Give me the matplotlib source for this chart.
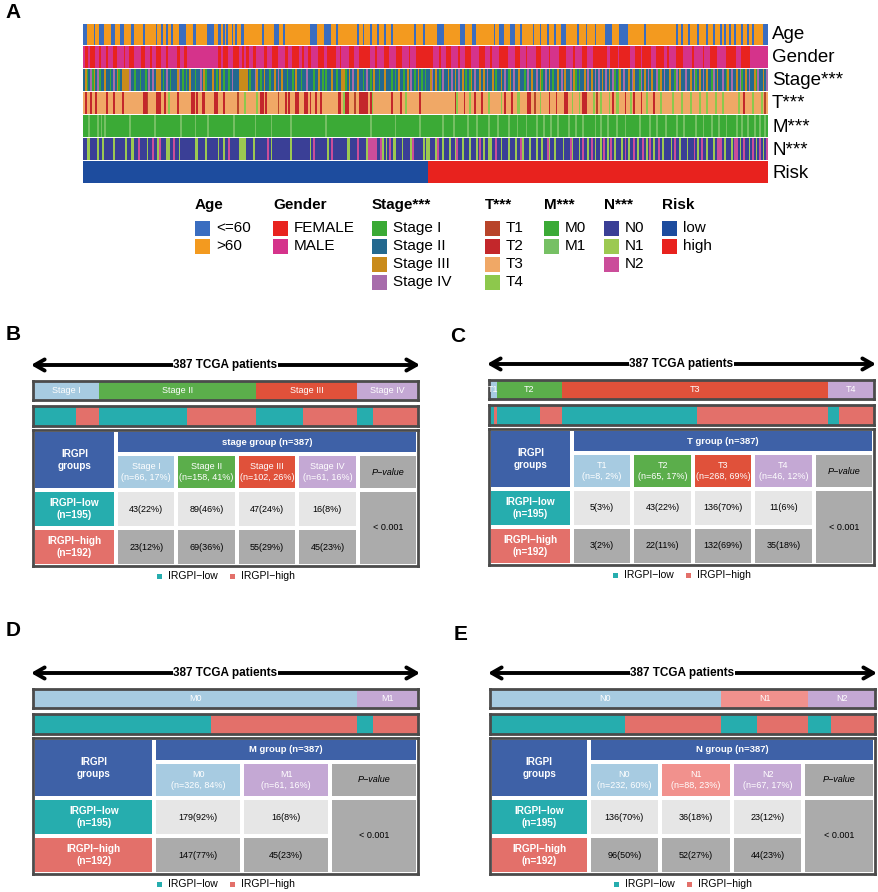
import numpy as np
import matplotlib.pyplot as plt
from matplotlib.patches import Rectangle
from matplotlib.colors import to_rgb
from matplotlib.transforms import blended_transform_factory

plt.rcParams['font.family'] = ['Liberation Sans', 'DejaVu Sans']

# ---------------- panel A: per-patient annotation ----------------
n_pat = 387
n_low = 195

age_young = [0, 1, 6, 9, 10, 11, 16, 17, 21, 22, 27, 28, 34, 41, 44, 47, 50, 54, 55, 56, 57,
             62, 63, 70, 71, 72, 73, 76, 77, 79, 81, 84, 86, 89, 90, 101, 108, 109, 110, 113,
             128, 129, 130, 131, 136, 137, 138, 139, 143, 155, 158, 162, 166, 170, 174, 187,
             192, 200, 201, 202, 203, 213, 214, 215, 220, 221, 232, 235, 236, 237, 241, 242,
             243, 247, 254, 258, 262, 266, 270, 271, 272, 279, 284, 289, 295, 296, 297, 298,
             303, 304, 305, 306, 307, 317, 335, 338, 342, 347, 352, 356, 360, 362, 365, 368,
             372, 375, 378, 384, 385, 386]
female = [1, 2, 4, 5, 6, 9, 13, 17, 18, 23, 26, 27, 28, 33, 34, 38, 41, 42, 43, 47, 53, 54,
          57, 58, 76, 77, 79, 80, 81, 85, 86, 87, 90, 92, 93, 96, 97, 102, 103, 107, 108, 109,
          114, 115, 118, 119, 120, 121, 124, 127, 128, 133, 134, 135, 138, 139, 140, 141, 142,
          145, 150, 151, 152, 156, 157, 158, 159, 160, 161, 165, 170, 171, 172, 177, 178, 179,
          184, 188, 189, 190, 191, 192, 193, 194, 195, 196, 197, 201, 205, 206, 207, 212, 216,
          217, 218, 224, 225, 226, 230, 235, 236, 237, 238, 239, 244, 245, 246, 250, 256, 257,
          258, 263, 269, 270, 271, 272, 277, 282, 283, 284, 288, 289, 290, 291, 292, 293, 294,
          295, 298, 299, 300, 301, 303, 304, 305, 306, 307, 308, 312, 313, 314, 316, 317, 318,
          319, 320, 324, 325, 326, 327, 330, 335, 336, 337, 338, 344, 350, 354, 355, 356, 357,
          363, 364, 365, 366, 367, 368, 372, 373, 374, 375, 376]
stage_1 = [2, 5, 9, 15, 20, 29, 32, 35, 45, 49, 56, 58, 63, 69, 75, 79, 82, 94, 100, 105, 115,
           118, 123, 130, 135, 137, 143, 148, 158, 162, 167, 174, 176, 181, 187, 191, 193, 201,
           216, 218, 233, 240, 249, 259, 265, 278, 280, 300, 302, 314, 325, 334, 346, 355, 363,
           372, 380]
stage_3 = [1, 6, 12, 19, 22, 23, 24, 25, 41, 42, 43, 53, 60, 68, 73, 77, 88, 89, 90, 91, 92, 98,
           102, 108, 112, 120, 133, 140, 146, 147, 150, 155, 164, 170, 178, 183, 189, 196, 199,
           206, 210, 214, 219, 224, 226, 231, 236, 241, 246, 253, 258, 263, 268, 272, 277, 283,
           287, 293, 297, 303, 308, 311, 317, 321, 326, 331, 337, 343, 348, 352, 358, 364, 369,
           374, 379, 384]
stage_4 = [4, 8, 17, 26, 37, 39, 47, 54, 66, 84, 97, 110, 126, 152, 160, 185, 197, 203, 208,
           212, 221, 228, 238, 243, 251, 256, 261, 270, 275, 285, 289, 291, 295, 299, 305, 310,
           315, 319, 324, 328, 335, 340, 345, 350, 356, 361, 366, 371, 376, 381, 386]
t1_idx = [36, 87, 110, 153, 255, 290, 385]
t2_idx = [1, 4, 7, 13, 17, 22, 34, 35, 41, 42, 43, 46, 53, 61, 62, 64, 67, 68, 74, 75, 79, 100,
          101, 103, 114, 116, 120, 121, 125, 126, 128, 131, 134, 144, 145, 148, 149, 156, 157,
          158, 159, 160, 162, 174, 179, 190, 210, 215, 221, 225, 238, 242, 251, 252, 263, 267,
          272, 273, 282, 283, 284, 299, 306, 311, 315, 322, 373]
t4_idx = [48, 91, 98, 147, 163, 182, 211, 218, 229, 236, 245, 246, 258, 276, 280, 288, 292, 297,
          301, 302, 309, 318, 326, 333, 338, 343, 348, 352, 357, 361, 370, 378, 383]
m1_idx = [3, 8, 10, 12, 26, 40, 55, 63, 70, 85, 97, 106, 117, 137, 162, 176, 190, 203, 209, 217,
          222, 229, 234, 240, 245, 250, 256, 260, 264, 268, 274, 278, 282, 289, 292, 296, 301,
          306, 314, 320, 324, 329, 335, 339, 346, 350, 355, 359, 363, 369, 372, 375, 379, 382, 385]
n1_idx = [2, 3, 8, 11, 17, 24, 27, 28, 36, 42, 47, 48, 54, 63, 64, 69, 76, 79, 88, 89, 90, 91, 96,
          106, 117, 128, 138, 149, 150, 160, 169, 171, 175, 176, 180, 185, 192, 194, 195, 199,
          203, 207, 210, 214, 218, 222, 226, 229, 230, 236, 240, 244, 248, 252, 256, 259, 263,
          266, 271, 276, 280, 285, 289, 292, 296, 300, 304, 308, 313, 318, 322, 327, 332, 337,
          341, 347, 352, 356, 362, 366, 371, 376, 380, 384]
n2_idx = [31, 39, 43, 51, 82, 104, 130, 140, 155, 161, 162, 163, 164, 165, 168, 173, 186, 200,
          211, 224, 233, 247, 262, 275, 282, 287, 294, 298, 306, 311, 316, 320, 325, 334, 345,
          349, 358, 359, 360, 368, 369, 373, 378, 382, 386]

age_labels = ['<=60', '>60']
gender_labels = ['FEMALE', 'MALE']
stage_labels = ['Stage I', 'Stage II', 'Stage III', 'Stage IV']
t_labels = ['T1', 'T2', 'T3', 'T4']
m_labels = ['M0', 'M1']
n_labels = ['N0', 'N1', 'N2']
risk_labels = ['low', 'high']

# ---------------- panels B-E: counts per IRGPI group ----------------
stage_low = [43, 89, 47, 16]
stage_high = [23, 69, 55, 45]
t_low = [5, 43, 136, 11]
t_high = [3, 22, 132, 35]
m_low = [179, 16]
m_high = [147, 45]
n_low_cnt = [136, 36, 23]
n_high_cnt = [96, 52, 44]
p_text = '< 0.001'

# colours
age_pal = ['#3A6DC0', '#F39A1F']
gender_pal = ['#E8231F', '#D5338B']
stage_pal = ['#3AAA35', '#24698F', '#C98B1B', '#A76CAB']
t_pal = ['#B8442A', '#C3272B', '#F0A866', '#8DC84C']
m_pal = ['#3BAA36', '#76C064']
n_pal = ['#3A3F96', '#9CC951', '#CB4D9A']
risk_pal = ['#1D4C9E', '#E8221E']

teal = '#26ADAE'
salmon = '#E3706A'
navy = '#3E61A7'
lblue = '#A7CBE1'
green = '#5BAE4B'
red = '#E0513A'
lilac = '#C4A8D4'
pink = '#F1918D'
pgrey = '#A9A9A9'
frame = '#4B4B4B'

W, H = 879, 892
fig = plt.figure(figsize=(8.79, 8.92), dpi=100)


def px_axes(x, y, w, h):
    return fig.add_axes([x / W, 1 - (y + h) / H, w / W, h / H])


ov = fig.add_axes([0, 0, 1, 1])
ov.set_xlim(0, W)
ov.set_ylim(H, 0)
ov.axis('off')


def make_codes(default, assign):
    c = np.full(n_pat, default)
    for k, idx in assign.items():
        c[idx] = k
    return c


rows = [
    ('Age', make_codes(1, {0: age_young}), age_pal),
    ('Gender', make_codes(1, {0: female}), gender_pal),
    ('Stage***', make_codes(1, {0: stage_1, 2: stage_3, 3: stage_4}), stage_pal),
    ('T***', make_codes(2, {0: t1_idx, 1: t2_idx, 3: t4_idx}), t_pal),
    ('M***', make_codes(0, {1: m1_idx}), m_pal),
    ('N***', make_codes(0, {1: n1_idx, 2: n2_idx}), n_pal),
    ('Risk', np.r_[np.zeros(n_low, int), np.ones(n_pat - n_low, int)], risk_pal),
]

ax_hm = px_axes(83, 23.5, 685, 160)
blend = blended_transform_factory(ax_hm.transAxes, ax_hm.transData)
for r, (name, c, pal) in enumerate(rows):
    rgb = np.array([to_rgb(p) for p in pal])[c]
    ax_hm.imshow(rgb[None], extent=(0, n_pat, r + 0.92, r), aspect='auto',
                 interpolation='nearest')
    ax_hm.text(1.006, r + 0.48, name, transform=blend, ha='left', va='center', fontsize=13.5)
ax_hm.set_xlim(0, n_pat)
ax_hm.set_ylim(6.92, 0)
ax_hm.axis('off')

# heatmap legends
legend_groups = [
    ('Age', age_labels, age_pal, 195),
    ('Gender', gender_labels, gender_pal, 273),
    ('Stage***', stage_labels, stage_pal, 372),
    ('T***', t_labels, t_pal, 485),
    ('M***', m_labels, m_pal, 544),
    ('N***', n_labels, n_pal, 604),
    ('Risk', risk_labels, risk_pal, 662),
]
sw = 15
for title, labels, pal, lx in legend_groups:
    ov.text(lx, 205, title, fontsize=11, fontweight='bold', ha='left', va='center')
    for i, (lab, col) in enumerate(zip(labels, pal)):
        yc = 228 + i * 18
        ov.add_patch(Rectangle((lx, yc - sw / 2), sw, sw, facecolor=col, edgecolor='none'))
        ov.text(lx + sw + 6, yc, lab, fontsize=11, ha='left', va='center')


def cell(ax, x, y, w, h, col, txt='', tcol='white', **kw):
    ax.add_patch(Rectangle((x, y), w, h, facecolor=col, edgecolor='none'))
    if txt:
        ax.text(x + w / 2, y + h / 2, txt, color=tcol, ha='center', va='center',
                linespacing=1.35, **kw)


def draw_panel(x0, y0, cats, low, high, head_cols, group):
    Wp = 385
    tot = [a + b for a, b in zip(low, high)]
    total = sum(tot)
    nl, nh = sum(low), sum(high)

    # double arrow
    ax = px_axes(x0 - 2, y0 - 10, Wp + 4, 20)
    ax.set_xlim(0, 1)
    ax.set_ylim(-1, 1)
    ax.axis('off')
    ax.annotate('', xy=(0, 0), xytext=(1, 0),
                arrowprops=dict(arrowstyle='<->,head_length=0.7,head_width=0.4',
                                lw=2.8, color='black', shrinkA=0, shrinkB=0,
                                mutation_scale=10))
    ax.text(0.5, 0, f'{total} TCGA patients', ha='center', va='center', fontsize=8.5,
            fontweight='bold', bbox=dict(facecolor='white', edgecolor='none', pad=0.3))

    lefts = np.cumsum([0] + tot[:-1])

    # category bar
    b1 = px_axes(x0, y0 + 16, Wp, 19)
    bars = b1.barh(0, tot, left=lefts, height=1, color=head_cols, edgecolor='none')
    for name, l, w, p in zip(cats, lefts, tot, bars.patches):
        t = b1.text(l + w / 2, 0, name, color='white', fontsize=6.5, ha='center', va='center')
        t.set_clip_path(p)
    # IRGPI split bar
    b2 = px_axes(x0, y0 + 41, Wp, 20)
    b2.barh(0, low, left=lefts, height=1, color=teal, edgecolor='none')
    b2.barh(0, high, left=lefts + np.array(low), height=1, color=salmon, edgecolor='none')
    for b in (b1, b2):
        b.set_xlim(0, total)
        b.set_ylim(-0.5, 0.5)
        b.set_xticks([])
        b.set_yticks([])
        for s in b.spines.values():
            s.set_color(frame)
            s.set_linewidth(2)

    # table
    Ht = 136
    tab = px_axes(x0, y0 + 65, Wp, Ht)
    tab.set_xlim(0, Wp)
    tab.set_ylim(Ht, 0)
    tab.set_xticks([])
    tab.set_yticks([])
    for s in tab.spines.values():
        s.set_color(frame)
        s.set_linewidth(2)
    pad, g = 2, 4
    ncol = len(cats) + 1
    cw = (Wp - 2 * pad - ncol * g) / (1.4 + ncol)
    gw = 1.4 * cw
    xs = [pad + gw + g + i * (cw + g) for i in range(ncol)]
    y_hd, h_hd = pad, 20
    y_sb, h_sb = y_hd + h_hd + g, 32
    y_lo, h_lo = y_sb + h_sb + g, 34
    y_hi, h_hi = y_lo + h_lo + g, Ht - pad - (y_lo + h_lo + g)
    fs = 6.5
    cell(tab, pad, y_hd, gw, h_hd + g + h_sb, navy, 'IRGPI\ngroups', fontsize=7.2,
         fontweight='bold')
    cell(tab, xs[0], y_hd, Wp - pad - xs[0], h_hd, navy, f'{group} group (n={total})',
         fontsize=6.8, fontweight='bold')
    for i, name in enumerate(cats):
        pct = round(100 * tot[i] / total)
        cell(tab, xs[i], y_sb, cw, h_sb, head_cols[i], f'{name}\n(n={tot[i]}, {pct}%)',
             fontsize=fs)
        cell(tab, xs[i], y_lo, cw, h_lo, '#E6E6E6',
             f'{low[i]}({round(100 * low[i] / nl)}%)', tcol='black', fontsize=fs)
        cell(tab, xs[i], y_hi, cw, h_hi, '#ABABAB',
             f'{high[i]}({round(100 * high[i] / nh)}%)', tcol='black', fontsize=fs)
    xp = xs[-1]
    wp = Wp - pad - xp
    cell(tab, xp, y_sb, wp, h_sb, pgrey, 'P\u2212value', tcol='black', fontsize=fs,
         fontstyle='italic')
    cell(tab, xp, y_lo, wp, y_hi + h_hi - y_lo, '#ABABAB', p_text, tcol='black', fontsize=fs)
    cell(tab, pad, y_lo, gw, h_lo, teal, f'IRGPI\u2212low\n(n={nl})', fontsize=7.2,
         fontweight='bold')
    cell(tab, pad, y_hi, gw, h_hi, salmon, f'IRGPI\u2212high\n(n={nh})', fontsize=7.2,
         fontweight='bold')

    # small legend below table
    ly = y0 + 211
    for dx, col, lab in ((124, teal, 'IRGPI\u2212low'), (197, salmon, 'IRGPI\u2212high')):
        ov.add_patch(Rectangle((x0 + dx, ly - 2.5), 5, 5, facecolor=col, edgecolor='none'))
        ov.text(x0 + dx + 11, ly, lab, fontsize=7.5, ha='left', va='center')


draw_panel(33, 365, stage_labels, stage_low, stage_high, [lblue, green, red, lilac], 'stage')
draw_panel(489, 364, t_labels, t_low, t_high, [lblue, green, red, lilac], 'T')
draw_panel(33, 673, m_labels, m_low, m_high, [lblue, lilac], 'M')
draw_panel(490, 673, n_labels, n_low_cnt, n_high_cnt, [lblue, pink, lilac], 'N')

for letter, x, y in (('A', 5, 13), ('B', 6, 335), ('C', 450, 337), ('D', 6, 630), ('E', 454, 634)):
    ov.text(x, y, letter, fontsize=15, fontweight='bold', ha='left', va='center')

fig.savefig('out.png', dpi=100)
